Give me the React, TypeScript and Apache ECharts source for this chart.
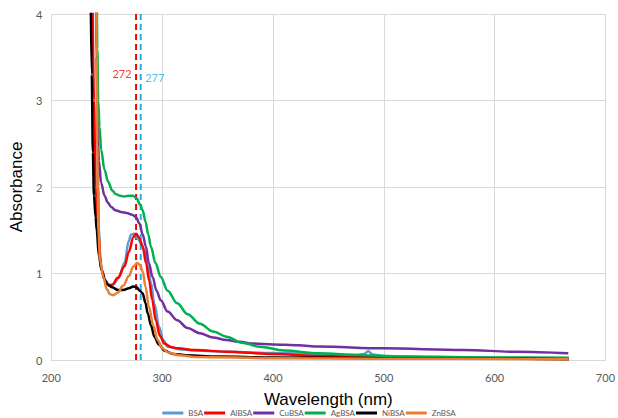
import React, { useEffect, useRef } from "react";
import * as echarts from "echarts";

const xTicks = [200, 300, 400, 500, 600, 700];
const yTicks = [0, 1, 2, 3, 4];

const bsaWl = [240, 241.5, 242.5, 243, 244, 246, 249, 252, 256, 261, 266, 270, 272, 275, 278, 281, 284, 287, 290, 293, 297.3, 301, 305, 315, 330, 360, 400, 441, 475, 482, 486, 490, 500, 550, 600, 667];
const bsaAbs = [4.5, 3, 2, 1.5, 1.15, 1.02, 0.92, 0.87, 0.87, 0.95, 1.12, 1.38, 1.45, 1.46, 1.4, 1.35, 1.27, 1.08, 0.89, 0.65, 0.385, 0.23, 0.154, 0.125, 0.11, 0.095, 0.08, 0.07, 0.06, 0.07, 0.1, 0.065, 0.045, 0.03, 0.025, 0.02];

const alWl = [237, 238.5, 240, 242, 245.5, 249, 252, 255, 260, 266, 270, 274, 276.5, 279, 282.5, 285.5, 288.3, 291, 294.3, 298, 302, 308, 314, 330, 358, 400, 441, 500, 600, 667];
const alAbs = [4.5, 3, 2, 1.5, 1.04, 0.9, 0.86, 0.87, 0.95, 1.08, 1.25, 1.42, 1.46, 1.42, 1.31, 1.12, 0.92, 0.7, 0.46, 0.28, 0.19, 0.15, 0.135, 0.115, 0.096, 0.07, 0.045, 0.03, 0.02, 0.015];

const cuWl = [240.5, 241, 241.5, 243, 245, 248, 251, 254, 258, 263, 268, 273, 276.5, 279.5, 282.5, 285.4, 288, 291.4, 295, 298.8, 305, 313.6, 323, 334, 346, 358, 370, 381.7, 400, 423, 441, 500, 571.6, 620, 666.5];
const cuAbs = [4.5, 3.5, 2.8, 2.3, 2.05, 1.9, 1.82, 1.77, 1.73, 1.71, 1.7, 1.68, 1.65, 1.58, 1.45, 1.31, 1.12, 0.96, 0.8, 0.69, 0.56, 0.46, 0.37, 0.31, 0.26, 0.23, 0.21, 0.19, 0.18, 0.17, 0.155, 0.135, 0.116, 0.095, 0.077];

const agWl = [241, 241.5, 242.4, 243.5, 245, 248, 251.3, 255, 258, 261.7, 266, 270, 273.6, 277, 280, 282.5, 285, 287.5, 289.9, 294, 298.8, 305, 313.6, 323, 334, 346, 358, 372, 387.7, 410, 441, 480, 520, 600, 667];
const agAbs = [4.5, 3.6, 3.0, 2.7, 2.43, 2.2, 2.06, 1.96, 1.92, 1.9, 1.89, 1.9, 1.9, 1.87, 1.8, 1.73, 1.6, 1.45, 1.31, 1.12, 0.96, 0.8, 0.655, 0.53, 0.42, 0.33, 0.27, 0.2, 0.154, 0.11, 0.077, 0.055, 0.04, 0.03, 0.025];

const niWl = [235.5, 236.5, 237.5, 238.5, 240, 241, 243, 245.4, 248, 251, 255, 260, 265, 270, 274, 277, 280, 282.5, 285, 287, 290, 293, 297, 302, 310, 322, 350, 400, 500, 600, 667];
const niAbs = [4.3, 3.3, 2.4, 1.9, 1.65, 1.5, 1.2, 1.04, 0.93, 0.87, 0.84, 0.81, 0.81, 0.83, 0.85, 0.84, 0.8, 0.77, 0.66, 0.54, 0.4, 0.27, 0.18, 0.11, 0.07, 0.055, 0.04, 0.03, 0.02, 0.015, 0.01];

const znWl = [240.5, 241, 241.5, 242, 242.5, 244, 247, 250, 253, 256, 260, 265, 270, 274, 277.4, 280, 282.5, 285, 288, 292, 296, 300, 305, 315, 330, 400, 500, 667];
const znAbs = [4.5, 3.5, 2.5, 1.9, 1.5, 1.15, 0.96, 0.82, 0.76, 0.75, 0.78, 0.86, 0.97, 1.08, 1.12, 1.1, 1.02, 0.85, 0.62, 0.4, 0.23, 0.14, 0.09, 0.055, 0.035, 0.02, 0.015, 0.01];

const seriesNames = ["BSA", "AlBSA", "CuBSA", "AgBSA", "NiBSA", "ZnBSA"];
const seriesColors = ["#5B9BD5", "#FF0000", "#7030A0", "#00B050", "#000000", "#ED7D31"];
const seriesWl = [bsaWl, alWl, cuWl, agWl, niWl, znWl];
const seriesAbs = [bsaAbs, alAbs, cuAbs, agAbs, niAbs, znAbs];

const peakLinePos = [276.5, 280.7];
const peakLabels = ["272", "277"];
const peakLabelY = [3.31, 3.27];
const peakColors = ["#FF0000", "#1FB2EA"];

export default function App() {
  const ref = useRef<HTMLDivElement>(null);
  useEffect(() => {
    if (!ref.current) return;
    const chart = echarts.init(ref.current, undefined, { renderer: "svg" });
    const lineSeries = seriesNames.map((name, i) => ({
      name,
      type: "line",
      data: seriesWl[i].map((w, j) => [w, seriesAbs[i][j]]),
      showSymbol: false,
      symbol: "none",
      smooth: 0.35,
      smoothMonotone: "x",
      clip: true,
      color: seriesColors[i],
      lineStyle: { width: 2.5, color: seriesColors[i] },
      z: 3 + i,
    }));
    const peakSeries = peakLinePos.map((p, i) => ({
      name: "peak" + peakLabels[i],
      type: "line",
      data: [
        [p, 0],
        [p, 4],
      ],
      symbol: "none",
      showSymbol: false,
      lineStyle: { width: 2, type: [6, 4], color: peakColors[i] },
      z: 2,
      silent: true,
    }));
    const peakLabelSeries = peakLinePos.map((p, i) => ({
      name: "label" + peakLabels[i],
      type: "scatter",
      data: [[p, peakLabelY[i]]],
      symbol: "circle",
      symbolSize: 1,
      itemStyle: { color: "rgba(255,255,255,0)" },
      label: {
        show: true,
        position: i === 0 ? "left" : "right",
        formatter: peakLabels[i],
        color: peakColors[i],
        fontSize: 11,
        fontFamily: "Lato",
        distance: 4,
      },
      z: 10,
      silent: true,
    }));
    chart.setOption({
      animation: false,
      backgroundColor: "#ffffff",
      grid: { left: 49, right: 9, top: 14, bottom: 58, containLabel: false },
      legend: {
        data: seriesNames,
        top: 404,
        left: "center",
        icon: "rect",
        itemWidth: 21,
        itemHeight: 3,
        itemGap: 1,
        textStyle: { fontSize: 8, color: "#595959", fontFamily: "Lato", width: 22 },
      },
      xAxis: {
        type: "value",
        min: 200,
        max: 700,
        interval: 100,
        name: "Wavelength (nm)",
        nameLocation: "middle",
        nameGap: 31,
        nameTextStyle: { fontSize: 17, color: "#000000", fontFamily: "Liberation Sans" },
        axisLine: { show: true, lineStyle: { color: "#d9d9d9", width: 1 } },
        axisTick: { show: false },
        axisLabel: {
          fontSize: 11,
          color: "#595959",
          fontFamily: "Lato",
          margin: 12,
          customValues: xTicks,
        },
        splitLine: { show: true, lineStyle: { color: "#d9d9d9", width: 1 } },
      },
      yAxis: {
        type: "value",
        min: 0,
        max: 4,
        interval: 1,
        name: "Absorbance",
        nameLocation: "middle",
        nameGap: 23,
        nameTextStyle: { fontSize: 17, color: "#000000", fontFamily: "Liberation Sans" },
        axisLine: { show: false },
        axisTick: { show: false },
        axisLabel: { fontSize: 11, color: "#595959", fontFamily: "Lato", margin: 9, customValues: yTicks },
        splitLine: { show: true, lineStyle: { color: "#d9d9d9", width: 1 } },
      },
      series: [...peakSeries, ...lineSeries, ...peakLabelSeries],
    });
    return () => chart.dispose();
  }, []);
  return (
    <div
      ref={ref}
      style={{ position: "fixed", left: 0, top: 0, width: 618, height: 418, background: "#fff" }}
    />
  );
}
